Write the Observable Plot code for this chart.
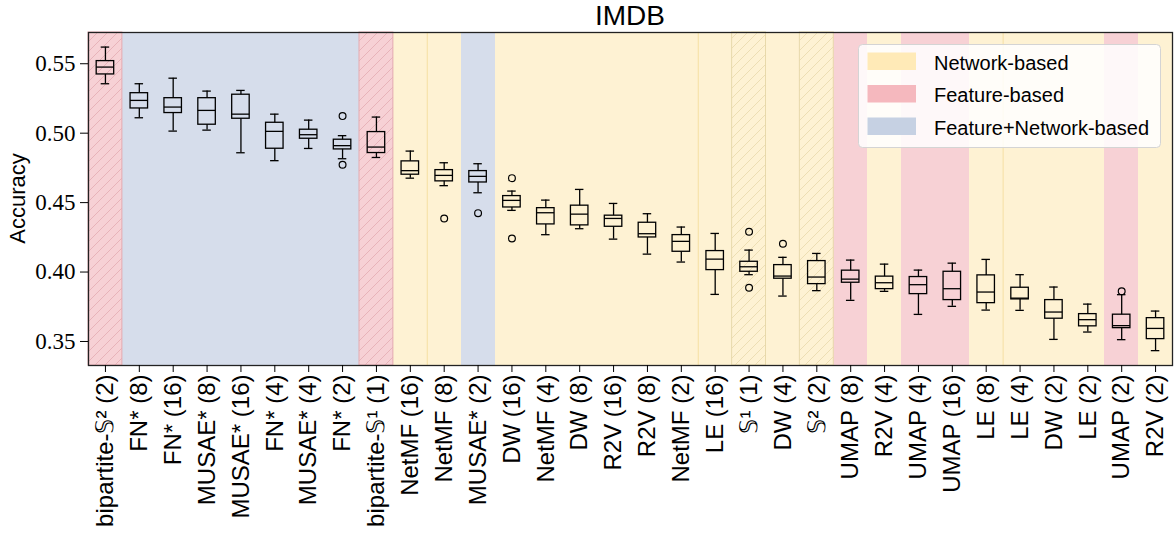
<!DOCTYPE html>
<html>
<head>
<meta charset="utf-8">
<script src="https://cdn.jsdelivr.net/npm/d3@7"></script>
<script src="https://cdn.jsdelivr.net/npm/@observablehq/plot@0.6"></script>
<style>
  html, body { margin: 0; padding: 0; background: white; }
</style>
</head>
<body>
<div id="chart"></div>
<script>
// ---- data ----
const title = "IMDB";
const yLabel = "Accuracy";
const categories = [
  "bipartite-𝕊² (2)", "FN* (8)", "FN* (16)", "MUSAE* (8)", "MUSAE* (16)", "FN* (4)", "MUSAE* (4)", "FN* (2)",
  "bipartite-𝕊¹ (1)", "NetMF (16)", "NetMF (8)", "MUSAE* (2)", "DW (16)", "NetMF (4)", "DW (8)", "R2V (16)",
  "R2V (8)", "NetMF (2)", "LE (16)", "𝕊¹ (1)", "DW (4)", "𝕊² (2)", "UMAP (8)", "R2V (4)",
  "UMAP (4)", "UMAP (16)", "LE (8)", "LE (4)", "DW (2)", "LE (2)", "UMAP (2)", "R2V (2)"
];
// N = Network-based, F = Feature-based, FN = Feature+Network-based
const groups = [
  "F", "FN", "FN", "FN", "FN", "FN", "FN", "FN",
  "F", "N", "N", "FN", "N", "N", "N", "N",
  "N", "N", "N", "N", "N", "N", "F", "N",
  "F", "F", "N", "N", "N", "N", "F", "N"
];
const hatchedCategories = ["bipartite-𝕊² (2)", "bipartite-𝕊¹ (1)", "𝕊¹ (1)", "𝕊² (2)"];
const whiskerHigh = [0.5620, 0.5356, 0.5396, 0.5303, 0.5308, 0.5137, 0.5094, 0.4982,
  0.5116, 0.4871, 0.4787, 0.4780, 0.4583, 0.4518, 0.4595, 0.4494,
  0.4420, 0.4324, 0.4278, 0.4158, 0.4106, 0.4134, 0.4086, 0.4057,
  0.4014, 0.4064, 0.4091, 0.3981, 0.3892, 0.3769, 0.3837, 0.3719];
const q3 = [0.5519, 0.5288, 0.5252, 0.5252, 0.5277, 0.5075, 0.5025, 0.4953,
  0.5008, 0.4797, 0.4734, 0.4727, 0.4547, 0.4460, 0.4478, 0.4406,
  0.4355, 0.4266, 0.4151, 0.4074, 0.4050, 0.4079, 0.4010, 0.3967,
  0.3964, 0.4002, 0.3976, 0.3887, 0.3798, 0.3697, 0.3693, 0.3668];
const median = [0.5476, 0.5236, 0.5188, 0.5164, 0.5137, 0.5013, 0.4989, 0.4910,
  0.4900, 0.4730, 0.4696, 0.4689, 0.4516, 0.4427, 0.4417, 0.4386,
  0.4276, 0.4221, 0.4093, 0.4038, 0.3971, 0.3964, 0.3949, 0.3923,
  0.3909, 0.3880, 0.3856, 0.3812, 0.3712, 0.3657, 0.3614, 0.3594];
const q1 = [0.5423, 0.5178, 0.5145, 0.5061, 0.5104, 0.4888, 0.4960, 0.4883,
  0.4857, 0.4701, 0.4653, 0.4645, 0.4465, 0.4343, 0.4336, 0.4326,
  0.4249, 0.4146, 0.4014, 0.4002, 0.3952, 0.3913, 0.3923, 0.3877,
  0.3841, 0.3798, 0.3776, 0.3803, 0.3664, 0.3609, 0.3596, 0.3517];
const whiskerLow = [0.5356, 0.5111, 0.5015, 0.5022, 0.4859, 0.4802, 0.4890, 0.4816,
  0.4825, 0.4676, 0.4622, 0.4571, 0.4444, 0.4269, 0.4312, 0.4237,
  0.4129, 0.4072, 0.3839, 0.3981, 0.3827, 0.3866, 0.3796, 0.3861,
  0.3695, 0.3753, 0.3726, 0.3724, 0.3515, 0.3568, 0.3513, 0.3434];
const outlierCategories = ["FN* (2)", "FN* (2)", "NetMF (8)", "MUSAE* (2)", "DW (16)", "DW (16)",
  "𝕊¹ (1)", "𝕊¹ (1)", "DW (4)", "UMAP (2)"];
const outlierValues = [0.5123, 0.4773, 0.4386, 0.4424, 0.4676, 0.4242,
  0.4290, 0.3887, 0.4204, 0.3861];
const yTicks = [0.35, 0.40, 0.45, 0.50, 0.55];
const yDomain = [0.3327, 0.5725];
const legendLabels = ["Network-based", "Feature-based", "Feature+Network-based"];
const legendKeys = ["N", "F", "FN"];
const edgeLineCategories = ["NetMF (8)", "LE (16)", "LE (4)"];

// ---- styles ----
const bgColor = {N: "#fef2d3", F: "#f7d1d5", FN: "#d6ddeb"};
const swatchColor = {N: "#ffeab7", F: "#f5b8be", FN: "#c6d1e3"};
const hatchColor = {N: "#e8d9ab", F: "#e4abb2"};
const sans = "'Liberation Sans', Arial, sans-serif";
const serif = "'Liberation Serif', 'DejaVu Serif', serif";

const W = 1175, H = 533;
const mL = 88, mR = 3, mT = 32, mB = 168;
const bw = (W - mL - mR) / categories.length;
const boxInset = (bw - 17.5) / 2;
const capInset = (bw - 8.5) / 2;

const data = categories.map((c, i) => ({
  c, g: groups[i], h: hatchedCategories.includes(c),
  lo: whiskerLow[i], q1: q1[i], med: median[i], q3: q3[i], hi: whiskerHigh[i]
}));
const outliers = outlierCategories.map((c, i) => ({c, v: outlierValues[i]}));
const hatched = data.filter(d => d.h);

const lw = 1.3;
const chart = Plot.plot({
  width: W, height: H,
  marginLeft: mL, marginRight: mR, marginTop: mT, marginBottom: mB,
  style: {background: "white", fontFamily: sans, color: "black", overflow: "visible"},
  x: {type: "band", domain: categories, padding: 0, round: false, label: null},
  y: {domain: yDomain, label: null},
  marks: [
    Plot.barY(data, {x: "c", y1: yDomain[0], y2: yDomain[1], fill: d => bgColor[d.g], shapeRendering: "crispEdges"}),
    Plot.barY(hatched, {x: "c", y1: yDomain[0], y2: yDomain[1], fill: d => `url(#hatch-${d.g})`,
      stroke: d => hatchColor[d.g], strokeWidth: 1}),
    Plot.tickX(edgeLineCategories, {x: d => d, dx: -bw / 2, stroke: "#f5dfa3", strokeWidth: 1}),
    Plot.ruleX(data, {x: "c", y1: "lo", y2: "q1", stroke: "black", strokeWidth: lw}),
    Plot.ruleX(data, {x: "c", y1: "q3", y2: "hi", stroke: "black", strokeWidth: lw}),
    Plot.tickY(data, {x: "c", y: "lo", insetLeft: capInset, insetRight: capInset, stroke: "black", strokeWidth: lw}),
    Plot.tickY(data, {x: "c", y: "hi", insetLeft: capInset, insetRight: capInset, stroke: "black", strokeWidth: lw}),
    Plot.barY(data, {x: "c", y1: "q1", y2: "q3", fill: "none", stroke: "black", strokeWidth: lw,
      insetLeft: boxInset, insetRight: boxInset}),
    Plot.tickY(data, {x: "c", y: "med", insetLeft: boxInset, insetRight: boxInset, stroke: "black", strokeWidth: lw}),
    Plot.dot(outliers, {x: "c", y: "v", r: 3.4, stroke: "black", fill: "none", strokeWidth: 1.2}),
    Plot.frame({stroke: "#222", strokeWidth: 1.3}),
    Plot.axisY({ticks: yTicks, tickFormat: d3.format(".2f"), tickSize: 8, tickPadding: 5,
      fontSize: 23, fontFamily: serif, label: null, stroke: "black"}),
    Plot.axisX({tickRotate: -90, tickSize: 7, tickPadding: 2, fontSize: 24,
      fontFamily: sans, label: null, stroke: "black"})
  ]
});

const svg = d3.select(chart);
// hatch patterns
const defs = svg.insert("defs", ":first-child");
Object.entries(hatchColor).forEach(([k, col]) => {
  const p = defs.append("pattern").attr("id", `hatch-${k}`)
    .attr("patternUnits", "userSpaceOnUse").attr("width", 10).attr("height", 10);
  p.append("path").attr("d", "M0,10 L10,0 M-2,2 L2,-2 M8,12 L12,8")
    .attr("stroke", col).attr("stroke-width", 0.8).attr("fill", "none");
});

// title and y label
svg.append("text").attr("x", (mL + W - mR) / 2).attr("y", 25).attr("text-anchor", "middle")
  .attr("font-family", sans).attr("font-size", 28).attr("fill", "black").text(title);
svg.append("text").attr("transform", `translate(25,${(mT + H - mB) / 2}) rotate(-90)`)
  .attr("text-anchor", "middle").attr("font-family", sans).attr("font-size", 22)
  .attr("fill", "black").text(yLabel);

// legend
const lg = svg.append("g").attr("font-family", sans).attr("text-anchor", "start");
lg.append("rect").attr("x", 858.5).attr("y", 44.5).attr("width", 302).attr("height", 103)
  .attr("rx", 4).attr("fill", "white").attr("fill-opacity", 0.85).attr("stroke", "#d4d4d4");
legendLabels.forEach((t, i) => {
  lg.append("rect").attr("x", 867.5).attr("y", 52.5 + i * 32.5).attr("width", 48.5).attr("height", 17.5)
    .attr("fill", swatchColor[legendKeys[i]]);
  lg.append("text").attr("x", 934).attr("y", 69.5 + i * 32.5).attr("font-size", 20)
    .attr("text-anchor", "start").attr("fill", "black").text(t);
});

document.getElementById("chart").appendChild(chart);
</script>
</body>
</html>
